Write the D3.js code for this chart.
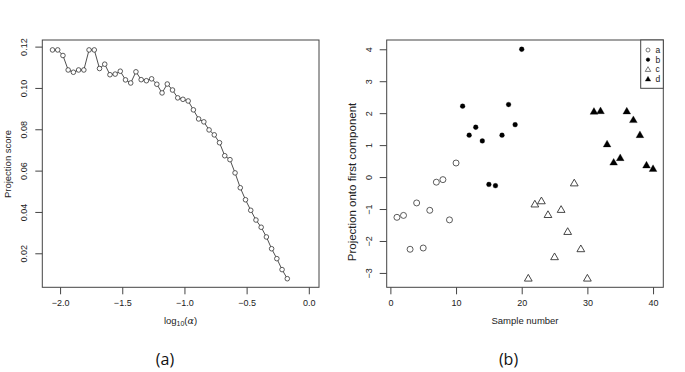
<!DOCTYPE html>
<html>
<head>
<meta charset="utf-8">
<script src="https://cdn.jsdelivr.net/npm/d3@7"></script>
<style>
  body { margin: 0; background: #fff; }
  svg text { font-family: "Liberation Sans", Arial, sans-serif; fill: #222; }
  .caption { font-family: "Open Sans", "Noto Sans", sans-serif !important; fill: #111; }
</style>
</head>
<body>
<div id="chart"></div>
<script>
// panel (a): projection score vs log10(alpha)
const logAlpha = [-2.061, -2.019, -1.977, -1.935, -1.893, -1.851, -1.809, -1.767, -1.725, -1.683,
  -1.641, -1.599, -1.557, -1.516, -1.474, -1.432, -1.390, -1.348, -1.306, -1.264,
  -1.222, -1.180, -1.138, -1.096, -1.054, -1.012, -0.970, -0.928, -0.886, -0.844,
  -0.802, -0.760, -0.718, -0.676, -0.634, -0.593, -0.551, -0.509, -0.467, -0.425,
  -0.383, -0.341, -0.299, -0.257, -0.215, -0.173];
const projScore = [0.1184, 0.1184, 0.1157, 0.1087, 0.1076, 0.1087, 0.1087, 0.1184, 0.1184, 0.1094,
  0.1115, 0.1064, 0.1067, 0.1081, 0.1039, 0.1024, 0.1078, 0.1040, 0.1035, 0.1044,
  0.1018, 0.0976, 0.1019, 0.0990, 0.0952, 0.0945, 0.0937, 0.0894, 0.0850, 0.0836,
  0.0797, 0.0773, 0.0735, 0.0672, 0.0653, 0.0589, 0.0517, 0.0459, 0.0408, 0.0361,
  0.0326, 0.0279, 0.0222, 0.0174, 0.0121, 0.0077];
const xTicksA = [-2.0, -1.5, -1.0, -0.5, 0.0];
const yTicksA = [0.02, 0.04, 0.06, 0.08, 0.10, 0.12];

// panel (b): projection onto first component, by sample
const groups = ["a", "b", "c", "d"];
const sampleA = [-1.26, -1.20, -2.26, -0.81, -2.22, -1.04, -0.16, -0.08, -1.34, 0.44];
const sampleB = [2.22, 1.31, 1.56, 1.13, -0.23, -0.27, 1.31, 2.27, 1.64, 4.00];
const sampleC = [-3.17, -0.85, -0.75, -1.18, -2.50, -1.02, -1.71, -0.19, -2.25, -3.17];
const sampleD = [2.05, 2.07, 1.03, 0.46, 0.60, 2.06, 1.79, 1.32, 0.37, 0.26];
const xTicksB = [0, 10, 20, 30, 40];
const yTicksB = [-3, -2, -1, 0, 1, 2, 3, 4];

const width = 685, height = 372;
const svg = d3.select("#chart").append("svg")
  .attr("width", width).attr("height", height);

const boxColor = "#444";
const tickLen = 7;

// draws the R-style frame, ticks and tick labels
function frame(x, y, xt, yt, xfmt, yfmt) {
  const [x0, x1] = x.range();
  const [y0, y1] = y.range();
  svg.append("rect")
    .attr("x", x0).attr("y", y1)
    .attr("width", x1 - x0).attr("height", y0 - y1)
    .attr("fill", "none").attr("stroke", boxColor).attr("stroke-width", 1);

  const gx = svg.append("g")
    .attr("transform", `translate(0,${y0})`)
    .call(d3.axisBottom(x).tickValues(xt).tickFormat(xfmt).tickSize(tickLen).tickPadding(5).tickSizeOuter(0));
  gx.select(".domain").remove();
  gx.selectAll("line").attr("stroke", boxColor);
  gx.selectAll("text").attr("font-size", 9).attr("fill", "#222")
    .text(d => xfmt(d).replace("-", "\u2212"));

  const gy = svg.append("g")
    .attr("transform", `translate(${x0},0)`)
    .call(d3.axisLeft(y).tickValues(yt).tickFormat(yfmt).tickSize(tickLen).tickSizeOuter(0));
  gy.select(".domain").remove();
  gy.selectAll("line").attr("stroke", boxColor);
  gy.selectAll("text")
    .attr("font-size", 9).attr("fill", "#222")
    .attr("x", null).attr("dy", null)
    .attr("text-anchor", "middle")
    .attr("transform", "translate(-15,0) rotate(-90)")
    .text(d => yfmt(d).replace("-", "\u2212"));
}

// ---------- panel (a) ----------
const xA = d3.scaleLinear().domain([-2.143, 0.082]).range([42.3, 319]);
const yA = d3.scaleLinear().domain([0.00354, 0.1232]).range([287.3, 40]);
frame(xA, yA, xTicksA, yTicksA, d3.format(".1f"), d3.format(".2f"));

const ptsA = logAlpha.map((v, i) => [v, projScore[i]]);
svg.append("path")
  .datum(ptsA)
  .attr("fill", "none").attr("stroke", "#222").attr("stroke-width", 0.8)
  .attr("d", d3.line().x(d => xA(d[0])).y(d => yA(d[1])));
svg.append("g").selectAll("circle")
  .data(ptsA).enter().append("circle")
  .attr("cx", d => xA(d[0])).attr("cy", d => yA(d[1]))
  .attr("r", 2.3)
  .attr("fill", "#fff").attr("stroke", "#333").attr("stroke-width", 0.8);

svg.append("text")
  .attr("transform", "translate(10.5,164) rotate(-90)")
  .attr("text-anchor", "middle").attr("font-size", 9.5)
  .text("Projection score");

const xlab = svg.append("text")
  .attr("x", 180.5).attr("y", 324)
  .attr("text-anchor", "middle").attr("font-size", 9.5);
xlab.append("tspan").text("log");
xlab.append("tspan").attr("font-size", 7).attr("dy", 2).text("10");
xlab.append("tspan").attr("dy", -2).text("(");
xlab.append("tspan").attr("font-family", "DejaVu Serif, serif").attr("font-style", "italic").text("\u03b1");
xlab.append("tspan").text(")");

svg.append("text").attr("class", "caption")
  .attr("x", 165).attr("y", 365)
  .attr("text-anchor", "middle").attr("font-size", 16)
  .text("(a)");

// ---------- panel (b) ----------
const xB = d3.scaleLinear().domain([-0.56, 41.56]).range([386.7, 663.3]);
const yB = d3.scaleLinear().domain([-3.45, 4.29]).range([287.3, 40]);
frame(xB, yB, xTicksB, yTicksB, d3.format("d"), d3.format("d"));

const seriesB = [sampleA, sampleB, sampleC, sampleD];
const isTri = [false, false, true, true];
const isFilled = [false, true, false, true];
const tri = d3.symbol().type(d3.symbolTriangle).size(26);

seriesB.forEach((vals, gi) => {
  const pts = vals.map((v, i) => [gi * 10 + i + 1, v]);
  const g = svg.append("g");
  if (isTri[gi]) {
    g.selectAll("path").data(pts).enter().append("path")
      .attr("d", tri)
      .attr("transform", d => `translate(${xB(d[0])},${yB(d[1]) + 0.5})`)
      .attr("fill", isFilled[gi] ? "#000" : "#fff")
      .attr("stroke", isFilled[gi] ? "#000" : "#333")
      .attr("stroke-width", isFilled[gi] ? 0.3 : 0.9);
  } else {
    g.selectAll("circle").data(pts).enter().append("circle")
      .attr("cx", d => xB(d[0])).attr("cy", d => yB(d[1]))
      .attr("r", isFilled[gi] ? 2.4 : 3)
      .attr("fill", isFilled[gi] ? "#000" : "#fff")
      .attr("stroke", isFilled[gi] ? "#000" : "#333")
      .attr("stroke-width", isFilled[gi] ? 0.3 : 0.8);
  }
});

// legend
const leg = svg.append("g");
leg.append("rect")
  .attr("x", 640.7).attr("y", 40).attr("width", 663.3 - 640.7).attr("height", 48.3)
  .attr("fill", "#fff").attr("stroke", boxColor).attr("stroke-width", 1);
const legY = d3.scalePoint().domain(groups).range([50, 79]);
groups.forEach((k, gi) => {
  const cy = legY(k);
  if (isTri[gi]) {
    leg.append("path")
      .attr("d", d3.symbol().type(d3.symbolTriangle).size(13))
      .attr("transform", `translate(648,${cy + 0.5})`)
      .attr("fill", isFilled[gi] ? "#000" : "#fff")
      .attr("stroke", isFilled[gi] ? "#000" : "#444").attr("stroke-width", isFilled[gi] ? 0.3 : 0.7);
  } else {
    leg.append("circle")
      .attr("cx", 648).attr("cy", cy).attr("r", isFilled[gi] ? 1.7 : 2)
      .attr("fill", isFilled[gi] ? "#000" : "#fff")
      .attr("stroke", isFilled[gi] ? "#000" : "#444").attr("stroke-width", 0.7);
  }
  leg.append("text")
    .attr("x", 655.5).attr("y", cy + 3)
    .attr("font-size", 8.5).text(k);
});

svg.append("text")
  .attr("transform", "translate(356,182) rotate(-90)")
  .attr("text-anchor", "middle").attr("font-size", 11.5)
  .text("Projection onto first component");

svg.append("text")
  .attr("x", 525).attr("y", 324)
  .attr("text-anchor", "middle").attr("font-size", 9.5)
  .text("Sample number");

svg.append("text").attr("class", "caption")
  .attr("x", 508.5).attr("y", 365)
  .attr("text-anchor", "middle").attr("font-size", 16)
  .text("(b)");
</script>
</body>
</html>
